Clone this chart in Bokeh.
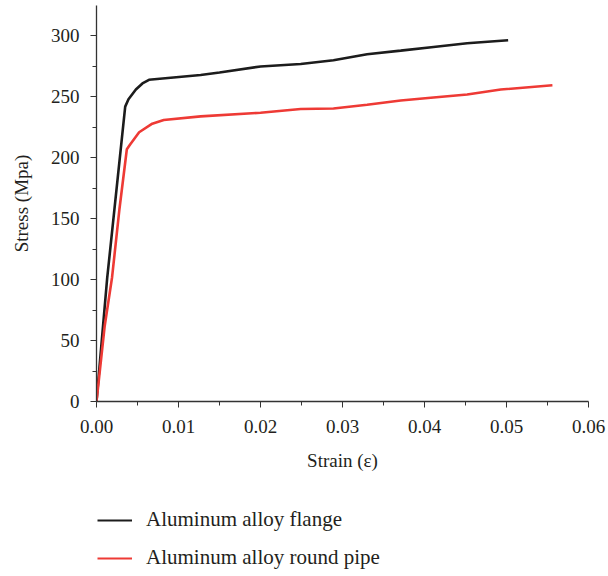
from bokeh.plotting import figure
from bokeh.layouts import column
from bokeh.models import Range1d, FixedTicker, Legend, LegendItem, NumeralTickFormatter
from bokeh.embed import file_html
from bokeh.resources import INLINE

flange_strain = [0.0, 0.0013, 0.0035, 0.0039, 0.0048, 0.0056, 0.0064, 0.0127, 0.015, 0.020, 0.0249, 0.0289, 0.033, 0.0371, 0.0411, 0.0452, 0.0502]
flange_stress = [0, 101, 242, 248, 256, 261, 264, 268, 270, 275, 277, 280, 285, 288, 291, 294, 296.5]
pipe_strain = [0.0, 0.001, 0.0019, 0.0028, 0.0037, 0.0041, 0.0052, 0.0068, 0.0082, 0.0127, 0.020, 0.0249, 0.0289, 0.033, 0.0371, 0.0411, 0.0452, 0.0493, 0.0556]
pipe_stress = [0, 62, 102, 158, 207, 211, 221, 228, 231, 234, 237, 240, 240.5, 243.5, 247, 249.5, 252, 256, 259.5]
x_ticks = [0.0, 0.01, 0.02, 0.03, 0.04, 0.05, 0.06]
y_ticks = [0, 50, 100, 150, 200, 250, 300]
series_names = ["Aluminum alloy flange", "Aluminum alloy round pipe"]
series_colors = ["#1c1c1c", "#ee3a35"]

FONT = "Liberation Serif"

p = figure(width=606, height=490, output_backend="svg", toolbar_location=None,
           x_range=Range1d(0, 0.06), y_range=Range1d(0, 325))
p.min_border_left = 96
p.min_border_right = 18
p.min_border_top = 5
p.min_border_bottom = 89
p.outline_line_color = None
p.grid.visible = False
p.background_fill_color = "white"

p.line(flange_strain, flange_stress, line_color=series_colors[0], line_width=2.6)
p.line(pipe_strain, pipe_stress, line_color=series_colors[1], line_width=2.6)

p.xaxis.ticker = FixedTicker(ticks=x_ticks, minor_ticks=[0.005, 0.015, 0.025, 0.035, 0.045, 0.055])
p.yaxis.ticker = FixedTicker(ticks=y_ticks, minor_ticks=[25, 75, 125, 175, 225, 275])
p.xaxis.formatter = NumeralTickFormatter(format="0.00")
for ax in (p.xaxis, p.yaxis):
    ax.axis_line_color = "#333333"
    ax.axis_line_width = 1.3
    ax.major_tick_line_color = "#333333"
    ax.minor_tick_line_color = "#333333"
    ax.major_tick_in = 0
    ax.major_tick_out = 6
    ax.minor_tick_in = 0
    ax.minor_tick_out = 4
    ax.major_label_text_font = FONT
    ax.major_label_text_font_size = "19px"
    ax.major_label_text_color = "#231f20"
    ax.axis_label_text_font = FONT
    ax.axis_label_text_font_size = "19px"
    ax.axis_label_text_font_style = "normal"
    ax.axis_label_text_color = "#231f20"
p.xaxis.axis_label = "Strain (ε)"
p.yaxis.axis_label = "Stress (Mpa)"
p.xaxis.major_label_standoff = 12
p.xaxis.axis_label_standoff = 14
p.yaxis.major_label_standoff = 11
p.yaxis.axis_label_standoff = 16

# legend panel below the chart (its frame is aligned with the chart's frame)
lf = figure(width=606, height=84, output_backend="svg", toolbar_location=None,
            x_range=Range1d(0, 1), y_range=Range1d(0, 1))
lf.min_border = 0
lf.axis.visible = False
lf.grid.visible = False
lf.outline_line_color = None
# dummy renderers placed outside the visible range, only for the legend glyphs
lr = [lf.line([5, 6], [5, 6], line_color=c, line_width=2.2) for c in series_colors]
legend = Legend(items=[LegendItem(label=n, renderers=[r]) for n, r in zip(series_names, lr)],
                orientation="vertical", location=(1, 4))
legend.label_text_font = FONT
legend.label_text_font_size = "21px"
legend.label_text_color = "#231f20"
legend.border_line_color = None
legend.background_fill_alpha = 0
legend.glyph_width = 35
legend.spacing = 13
legend.label_standoff = 14
legend.margin = 0
legend.padding = 0
lf.add_layout(legend)

layout = column(p, lf, spacing=0)
open("out.html", "w").write(file_html(layout, INLINE))
